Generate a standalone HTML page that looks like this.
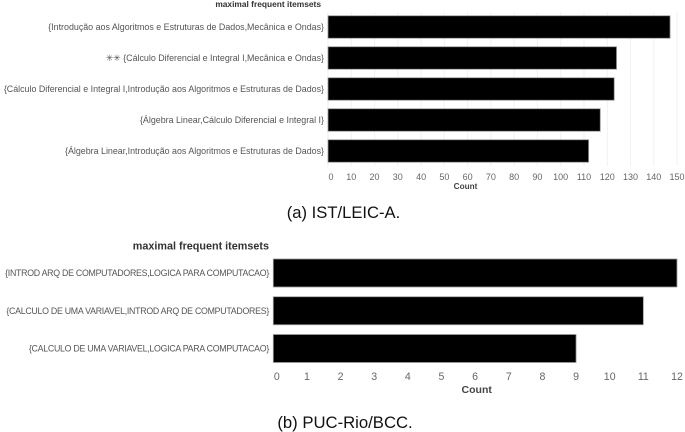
<!DOCTYPE html>
<html lang="pt">
<head>
<meta charset="utf-8">
<title>Maximal frequent itemsets</title>
<style>
html,body{margin:0;padding:0;background:#fff;width:685px;height:432px;overflow:hidden}
svg{display:block}
text{font-family:"Liberation Sans","DejaVu Sans",sans-serif}
</style>
</head>
<body>
<svg id="figure" xmlns="http://www.w3.org/2000/svg" width="685" height="432" viewBox="0 0 685 432">
  <defs><filter id="soft" x="-5%" y="-5%" width="110%" height="110%"><feGaussianBlur stdDeviation="0.3"/></filter></defs>
  <rect width="685" height="432" fill="#fff"/>
  <g id="chart-a"></g>
  <g id="chart-b"></g>
  <text x="343.5" y="218" font-size="16.6" text-anchor="middle" fill="#111">(a) IST/LEIC-A.</text>
  <text x="345" y="428" font-size="16.7" text-anchor="middle" fill="#111">(b) PUC-Rio/BCC.</text>
</svg>
<script>
const categoriesA = [
  "{Introdução aos Algoritmos e Estruturas de Dados,Mecânica e Ondas}",
  "✳✳ {Cálculo Diferencial e Integral I,Mecânica e Ondas}",
  "{Cálculo Diferencial e Integral I,Introdução aos Algoritmos e Estruturas de Dados}",
  "{Álgebra Linear,Cálculo Diferencial e Integral I}",
  "{Álgebra Linear,Introdução aos Algoritmos e Estruturas de Dados}"
];
const valuesA = [147, 124, 123, 117, 112];
const ticksA = [0, 10, 20, 30, 40, 50, 60, 70, 80, 90, 100, 110, 120, 130, 140, 150];

const categoriesB = [
  "{INTROD ARQ DE COMPUTADORES,LOGICA PARA COMPUTACAO}",
  "{CALCULO DE UMA VARIAVEL,INTROD ARQ DE COMPUTADORES}",
  "{CALCULO DE UMA VARIAVEL,LOGICA PARA COMPUTACAO}"
];
const valuesB = [12, 11, 9];
const ticksB = [0, 1, 2, 3, 4, 5, 6, 7, 8, 9, 10, 11, 12];

const NS = "http://www.w3.org/2000/svg";

function drawChart(root, cats, vals, ticks, o) {
  const x = v => o.x0 + v * o.pxPerUnit;
  const y = i => o.firstCenter + i * o.step;

  ticks.forEach(t => {
    if (!o.grid) return;
    const g = document.createElementNS(NS, "line");
    
    
    g.setAttribute("x1", x(t)); g.setAttribute("x2", x(t));
    g.setAttribute("y1", o.gridTop); g.setAttribute("y2", o.gridBottom);
    g.setAttribute("stroke", "#f1f1f1");
    root.appendChild(g);
  });

  cats.forEach((c, i) => {
    const r = document.createElementNS(NS, "rect");
    
    
    r.setAttribute("x", x(0));
    r.setAttribute("y", y(i) - o.barH / 2);
    r.setAttribute("width", x(vals[i]) - x(0));
    r.setAttribute("height", o.barH);
    r.setAttribute("fill", "#000");
    r.setAttribute("stroke", "#9a9a9a");
    r.setAttribute("stroke-width", "0.8");
    root.appendChild(r);

    const l = document.createElementNS(NS, "text");
    
    
    l.setAttribute("x", o.labelRight);
    l.setAttribute("y", y(i) + 3);
    l.setAttribute("text-anchor", "end");
    l.setAttribute("font-size", o.labelSize);
    l.setAttribute("letter-spacing", o.labelSpacing);
    l.setAttribute("fill", "#555");
    l.setAttribute("filter", "url(#soft)");
    l.textContent = c;
    root.appendChild(l);
  });

  ticks.forEach((t, i) => {
    const tx = document.createElementNS(NS, "text");
    
    
    tx.setAttribute("x", x(t) + (i === 0 ? o.firstTickShift : 0));
    tx.setAttribute("y", o.tickY);
    tx.setAttribute("text-anchor", "middle");
    tx.setAttribute("font-size", o.tickSize);
    tx.setAttribute("fill", "#666");
    tx.setAttribute("filter", "url(#soft)");
    tx.textContent = t;
    root.appendChild(tx);
  });

  const at = document.createElementNS(NS, "text");
  
  
  at.setAttribute("x", o.axisTitleX);
  at.setAttribute("y", o.axisTitleY);
  at.setAttribute("text-anchor", "middle");
  at.setAttribute("font-size", o.axisTitleSize);
  at.setAttribute("font-weight", "bold");
  at.setAttribute("fill", "#444");
  at.setAttribute("filter", "url(#soft)");
  at.textContent = "Count";
  root.appendChild(at);

  const ti = document.createElementNS(NS, "text");
  
  
  ti.setAttribute("x", o.titleRight);
  ti.setAttribute("y", o.titleY);
  ti.setAttribute("text-anchor", "end");
  ti.setAttribute("font-size", o.titleSize);
  ti.setAttribute("font-weight", "bold");
  ti.setAttribute("fill", "#333");
  ti.setAttribute("filter", "url(#soft)");
  ti.textContent = "maximal frequent itemsets";
  root.appendChild(ti);
}

drawChart(document.getElementById("chart-a"), categoriesA, valuesA, ticksA, {
  x0: 328, pxPerUnit: 2.327, firstCenter: 27, step: 31, barH: 22.5,
  grid: true, gridTop: 12, gridBottom: 166,
  labelRight: 324, labelSize: 8.9, labelSpacing: 0,
  firstTickShift: 3, tickY: 180, tickSize: 9,
  axisTitleX: 465.5, axisTitleY: 189, axisTitleSize: 8.2,
  titleRight: 321, titleY: 7, titleSize: 8.4
});

drawChart(document.getElementById("chart-b"), categoriesB, valuesB, ticksB, {
  x0: 273.3, pxPerUnit: 33.64, firstCenter: 273, step: 37.75, barH: 28,
  grid: false, gridTop: 0, gridBottom: 0,
  labelRight: 269, labelSize: 8.8, labelSpacing: -0.27,
  firstTickShift: 3.5, tickY: 380, tickSize: 10.6,
  axisTitleX: 476.7, axisTitleY: 393, axisTitleSize: 10.5,
  titleRight: 269, titleY: 249.5, titleSize: 10.8
});
</script>
</body>
</html>
